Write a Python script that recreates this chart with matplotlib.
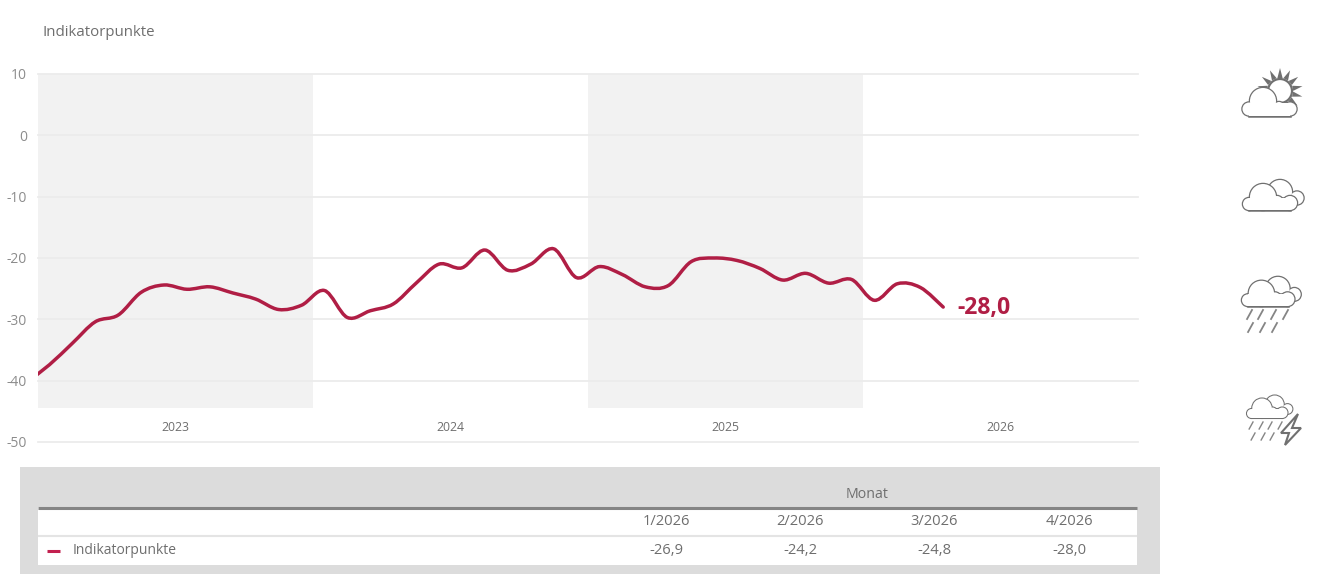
import numpy as np
import matplotlib
matplotlib.use("Agg")
import matplotlib.pyplot as plt
from matplotlib.path import Path
from matplotlib.patches import PathPatch, Rectangle, Circle, Polygon

plt.rcParams['font.family'] = ['Open Sans', 'DejaVu Sans']

# Data, monthly from Dec 2022 up to Apr 2026
values = [-40.3, -37.4, -33.9, -30.4, -29.3, -25.6, -24.4, -25.1, -24.7, -25.7, -26.7, -28.4, -27.7,
          -25.3, -29.7, -28.6, -27.5, -24.1, -21.0, -21.6, -18.7, -22.0, -21.0, -18.5, -23.2,
          -21.4, -22.7, -24.7, -24.5, -20.6, -20.0, -20.4, -21.7, -23.6, -22.5, -24.1, -23.5,
          -26.9, -24.2, -24.8, -28.0]
years = ['2023', '2024', '2025', '2026']
yticks = [10, 0, -10, -20, -30, -40, -50]
table_months = ['1/2026', '2/2026', '3/2026', '4/2026']
table_values = ['-26,9', '-24,2', '-24,8', '-28,0']
last_label = '-28,0'
series_name = 'Indikatorpunkte'

W, H = 1327, 581
RED = '#B01E45'
TXT = '#6e6e6e'

fig = plt.figure(figsize=(W / 100, H / 100), dpi=100)

# Chart axes, placed by pixel
ax = fig.add_axes([38 / W, 1 - 442 / H, 1100 / W, 368 / H])
ax.set_xlim(0, 48)
ax.set_ylim(-50, 10)
for s in ax.spines.values():
    s.set_visible(False)
ax.set_yticks(yticks)
ax.set_yticklabels([str(v) for v in yticks], color='#8c8c8c', fontsize=10)
ax.set_xticks([6, 18, 30, 42])
ax.set_xticklabels(years, color=TXT, fontsize=8.8)
ax.tick_params(length=0)
ax.tick_params(axis='y', pad=8)
ax.tick_params(axis='x', pad=-15)
ax.grid(axis='y', color='#ececec', lw=1.3, clip_on=False)
ax.set_axisbelow(True)
for start in [0, 24]:
    ax.fill_between([start, start + 12], -44.5, 10, color='#f2f2f2', lw=0, zorder=0)

# smooth line through the months (Catmull-Rom as bezier segments)
x = np.arange(len(values)) - 0.5
y = np.array(values)
verts = [(x[0], y[0])]
codes = [Path.MOVETO]
for i in range(len(x) - 1):
    a = max(i - 1, 0)
    b = min(i + 2, len(x) - 1)
    verts.append((x[i] + (x[i + 1] - x[a]) / 6, y[i] + (y[i + 1] - y[a]) / 6))
    verts.append((x[i + 1] - (x[b] - x[i]) / 6, y[i + 1] - (y[b] - y[i]) / 6))
    verts.append((x[i + 1], y[i + 1]))
    codes += [Path.CURVE4] * 3
ax.add_patch(PathPatch(Path(verts, codes), fill=False, ec=RED, lw=2.5, capstyle='round', zorder=3))
ax.annotate(last_label, (x[-1], y[-1]), xytext=(10, -0.7), textcoords='offset points', color=RED,
            fontsize=16.6, fontweight='bold', va='center')

# Overlay in pixel coordinates for table and icons
ov = fig.add_axes([0, 0, 1, 1])
ov.set_xlim(0, W)
ov.set_ylim(H, 0)
ov.axis('off')
ov.patch.set_alpha(0)

ov.text(42, 32, series_name, color=TXT, fontsize=10.8, va='center')

ov.add_patch(Rectangle((20, 467), 1140, 107, fc='#dcdcdc', lw=0))
ov.add_patch(Rectangle((38, 507), 1099, 58, fc='white', lw=0))
ov.plot([38, 1137], [507.5, 507.5], color='#858585', lw=2.2, solid_capstyle='butt')
ov.plot([38, 1137], [535.5, 535.5], color='#e4e4e4', lw=1.5, solid_capstyle='butt')
ov.text(867, 494, 'Monat', color=TXT, fontsize=10.2, ha='center', va='center')
for cx, m, v in zip([666, 800, 934, 1069], table_months, table_values):
    ov.text(cx, 521.5, m, color=TXT, fontsize=10.6, ha='center', va='center')
    ov.text(cx, 550.5, v, color=TXT, fontsize=10.6, ha='center', va='center')
ov.plot([47, 60], [551, 551], color='#C2204F', lw=2.2, solid_capstyle='butt')
ov.text(73, 551, series_name, color=TXT, fontsize=10, va='center')

ICON = '#707070'


def cloud(x0, y0, s, circles, base=None, lw=1.8, z=5):
    # outline drawn wide first, then white on top leaves only the union's edge
    parts = [Circle((x0 + cx * s, y0 + cy * s), r * s) for cx, cy, r in circles]
    white = [Circle((x0 + cx * s, y0 + cy * s), r * s) for cx, cy, r in circles]
    if base:
        rx = x0 + base[0] * s
        rw = (base[1] - base[0]) * s
        parts.append(Rectangle((rx, y0 - base[2] * s), rw, base[2] * s))
        white.append(Rectangle((rx, y0 - base[2] * s), rw, base[2] * s))
    for p in parts:
        p.set(fc=ICON, ec=ICON, lw=lw, zorder=z)
        ov.add_patch(p)
    for p in white:
        p.set(fc='white', lw=0, zorder=z + 0.1)
        ov.add_patch(p)


front = [(6, -6, 6), (20, -13, 13), (34, -8, 6), (47, -7, 7)]


def two_clouds(x0, y0, s, lw=1.8):
    cloud(x0, y0, s, [(37, -18, 12), (54, -12, 6.5)], lw=lw, z=5)
    cloud(x0, y0, s, front, base=(6, 47, 12), lw=lw, z=6)


def rain(xs, y0, length, lw=1.3):
    for px in xs:
        ov.plot([px, px - length * 0.55], [y0, y0 + length], color=ICON, lw=lw, zorder=5, alpha=0.85)


# sun and cloud
sun = (1280, 91)
for a in np.arange(-40, 200, 26):
    t = np.radians(a)
    n = np.array([np.cos(t), -np.sin(t)])
    p = np.array([-n[1], n[0]])
    c = np.array(sun)
    ov.add_patch(Polygon([c + n * 13 + p * 2.6, c + n * 23, c + n * 13 - p * 2.6], fc=ICON, lw=0, zorder=4))
ov.add_patch(Circle(sun, 12, fc='white', ec=ICON, lw=1.6, zorder=4.5))
cloud(1243, 116, 1.0, [(6, -7, 6.5), (20, -15, 13), (36, -9, 5), (47, -7, 6.5)], base=(6, 47, 13), z=6)

two_clouds(1243, 210, 1.0)

two_clouds(1242, 306, 0.97)
rain([1252, 1263, 1276, 1288], 310, 9)
rain([1253, 1265, 1277], 323, 9)

two_clouds(1247, 418, 0.75, lw=1.5)
rain([1253, 1263, 1272, 1282], 422, 7, lw=1.0)
rain([1255, 1265, 1274], 433, 7, lw=1.0)
ov.add_patch(Polygon([(1298, 414), (1281, 433), (1289, 433), (1285, 445), (1301, 428), (1292, 428)],
                     fc='white', ec=ICON, lw=1.5, zorder=7))

fig.savefig('out.png', dpi=100)
